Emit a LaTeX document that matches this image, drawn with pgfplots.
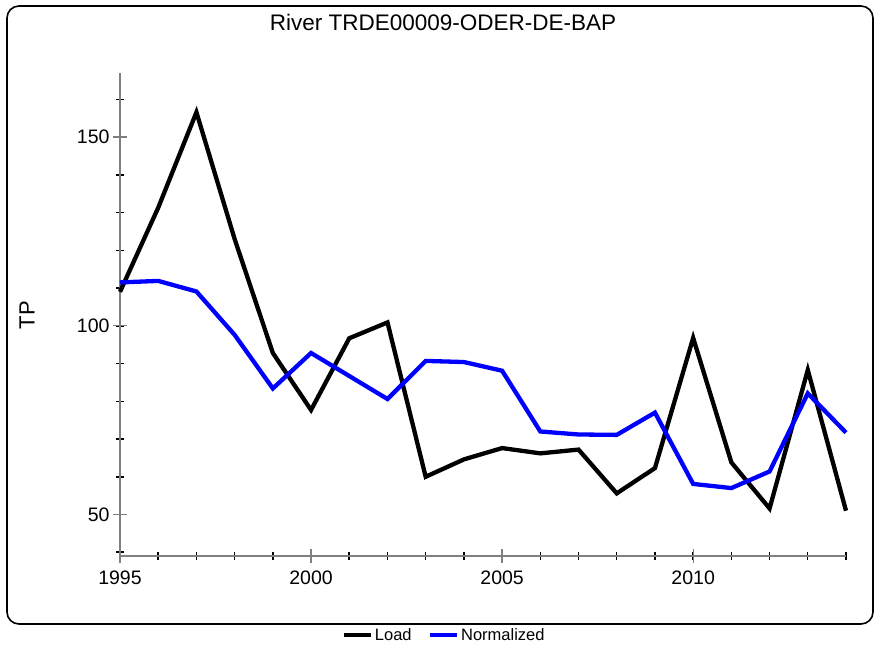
\documentclass[border=0pt]{standalone}
\usepackage{fontspec}
\setmainfont{Liberation Sans}
\usepackage{pgfplots}
\pgfplotsset{compat=1.18}
\begin{document}
\begin{tikzpicture}[x=1pt,y=1pt]
\path (0,0) rectangle (875,645);
\draw[rounded corners=12pt, line width=1.6pt] (7,21) rectangle (873,639);
\begin{axis}[
  at={(120pt,89pt)}, anchor=south west,
  scale only axis, width=726pt, height=483pt,
  xmin=1995, xmax=2014, ymin=39, ymax=167,
  axis lines*=left,
  axis line style={gray, line width=1.3pt},
  xtick={1995,2000,2005,2010},
  minor xtick={1995,...,2014},
  ytick={50,100,150},
  minor ytick={40,50,...,160},
  tick align=center,
  major tick length=14pt, minor tick length=8pt,
  every major tick/.style={gray, line width=1.3pt},
  every minor tick/.style={black, line width=1.5pt},
  xticklabel style={/pgf/number format/1000 sep={}, yshift=-4pt},
  /pgf/number format/assume math mode=true,
  tick label style={font=\fontsize{19.5}{23}\selectfont},
  title={River TRDE00009-ODER-DE-BAP},
  title style={at={(axis description cs:0.4449,1.093)}, anchor=center, font=\fontsize{22.5}{26}\selectfont},
  ylabel={TP},
  ylabel style={at={(axis description cs:-0.128,0.499)}, anchor=center, font=\fontsize{22}{26}\selectfont},
  legend style={at={(axis description cs:0.4463,-0.1636)}, anchor=center, draw=none, fill=none,
    legend columns=2, font=\fontsize{16.5}{19}\selectfont,
    /tikz/every even column/.append style={column sep=14pt}},
  legend image code/.code={\draw[#1, line width=4.5pt] (0pt,0pt) -- (27pt,0pt);},
  clip=false,
]
\addplot[black, line width=4.3pt, line join=miter] coordinates {
(1995,109) (1996,131.3) (1997,156.6) (1998,123) (1999,92.8) (2000,77.7)
(2001,96.7) (2002,100.9) (2003,60) (2004,64.6) (2005,67.6) (2006,66.2)
(2007,67.2) (2008,55.6) (2009,62.3) (2010,96.8) (2011,63.8) (2012,51.6)
(2013,88.3) (2014,51)
};
\addlegendentry{Load}
\addplot[blue, line width=4.3pt] coordinates {
(1995,111.5) (1996,111.9) (1997,109.1) (1998,97.6) (1999,83.4) (2000,92.8)
(2001,86.7) (2002,80.6) (2003,90.7) (2004,90.4) (2005,88.1) (2006,72)
(2007,71.2) (2008,71.1) (2009,77) (2010,58.1) (2011,57) (2012,61.4)
(2013,82.1) (2014,71.7)
};
\addlegendentry{Normalized}
\end{axis}
\end{tikzpicture}
\end{document}
